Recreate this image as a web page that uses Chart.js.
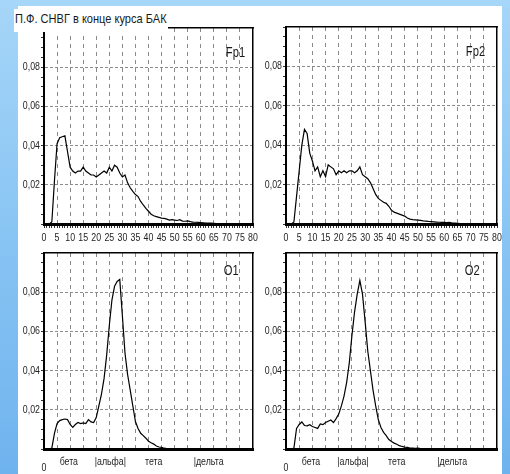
<!DOCTYPE html>
<html>
<head>
<meta charset="utf-8">
<script src="https://cdn.jsdelivr.net/npm/chart.js@4.4.1/dist/chart.umd.min.js"></script>
<style>
  html, body { margin: 0; padding: 0; }
  body {
    width: 510px; height: 474px; position: relative; overflow: hidden;
    background: linear-gradient(180deg, #a6d6f8 0%, #88c4f3 50%, #6fb3ee 100%);
    font-family: 'Liberation Sans', Arial, sans-serif;
  }
  #sheet { position: absolute; left: 18px; top: 6px; width: 484px; height: 468px; background: #fff; }
  canvas { position: absolute; left: 0; top: 0; }
  .lead {
    position: absolute; left: 14px; top: 9px; width: 154px; height: 23px;
    background: #fff; color: #1a1a1a; white-space: nowrap; overflow: visible;
  }
  .lead span {
    display: inline-block; font-size: 13px; line-height: 18px; margin-top: 1px; margin-left: 1px;
    transform: scaleX(0.85); transform-origin: 0 0;
  }
  .lbl {
    position: absolute; font-size: 14px; line-height: 14px; color: #1a1a1a;
    transform: scaleX(0.8); transform-origin: 100% 0;
  }
</style>
</head>
<body>
<div id="sheet"></div>
<canvas id="c0" width="510" height="474"></canvas>
<canvas id="c1" width="510" height="474"></canvas>
<canvas id="c2" width="510" height="474"></canvas>
<canvas id="c3" width="510" height="474"></canvas>
<div class="lead"><span>П.Ф. СНВГ в конце курса БАК</span></div>
<div class="lbl" style="right:265px; top:45px;">Fp1</div>
<div class="lbl" style="right:25px; top:44px;">Fp2</div>
<div class="lbl" style="right:271px; top:263px;">O1</div>
<div class="lbl" style="right:30px; top:263px;">O2</div>
<script>
// Frequency bins, Hz
const hz = [0,1,2,3,4,5,6,7,8,9,10,11,12,13,14,15,16,17,18,19,20,
  21,22,23,24,25,26,27,28,29,30,31,32,33,34,35,36,37,38,39,40,
  41,42,43,44,45,46,47,48,49,50,51,52,53,54,55,56,57,58,59,60,
  61,62,63,64,65,66,67,68,69,70,71,72,73,74,75,76,77,78,79,80];

// Normalised power spectra per lead
const fp1 = [0,0,0,0.001,0.022,0.041,0.044,0.0445,0.045,0.037,0.029,
  0.027,0.026,0.027,0.027,0.029,0.027,0.026,0.025,0.025,0.024,
  0.025,0.026,0.027,0.026,0.029,0.027,0.030,0.029,0.026,0.024,
  0.025,0.021,0.0185,0.0166,0.015,0.014,0.0115,0.0097,0.008,0.0065,
  0.005,0.0042,0.0038,0.0034,0.003,0.0029,0.0025,0.002,0.0022,0.002,
  0.0018,0.0022,0.0015,0.0014,0.0016,0.0012,0.001,0.0009,0.0008,0.0007,
  0.0006,0.0005,0.0004,0.0004,0.0003,0.0002,0,0,0,0,
  0,0,0,0,0,0,0,0,0,0];

const fp2 = [0,0,0,0.001,0.014,0.027,0.040,0.048,0.046,0.036,0.032,
  0.027,0.029,0.024,0.027,0.024,0.030,0.029,0.028,0.025,0.027,
  0.026,0.027,0.026,0.027,0.027,0.026,0.027,0.029,0.025,0.024,
  0.023,0.021,0.018,0.015,0.013,0.012,0.011,0.0105,0.009,0.007,
  0.006,0.0055,0.005,0.0045,0.004,0.003,0.0025,0.0022,0.0021,0.002,
  0.0018,0.0016,0.0015,0.0013,0.0012,0.0011,0.001,0.0009,0.0008,0.0008,
  0.0007,0.0008,0.0005,0.0004,0.0003,0.0002,0,0,0,0,
  0,0,0,0,0,0,0,0,0,0];

const o1 = [0,0,0,0.0005,0.008,0.013,0.0145,0.015,0.0153,0.015,0.0125,
  0.011,0.0125,0.0135,0.013,0.0133,0.013,0.015,0.0138,0.0135,0.016,
  0.022,0.028,0.036,0.048,0.063,0.076,0.083,0.0855,0.0865,0.068,
  0.049,0.038,0.030,0.022,0.014,0.0105,0.008,0.0068,0.0055,0.004,
  0.0032,0.0025,0.0015,0.001,0.0008,0.0004,0.0002,0.0001,0.0002,0.0001,
  0.0002,0,0,0,0,0,0,0,0,0,
  0,0,0,0,0,0,0,0,0,0,
  0,0,0,0,0,0,0,0,0,0];

const o2 = [0,0,0,0.0005,0.0105,0.0125,0.0138,0.012,0.0118,0.0124,0.0115,
  0.011,0.0105,0.0128,0.0124,0.0135,0.0142,0.0148,0.0135,0.0155,0.0178,
  0.022,0.027,0.034,0.044,0.058,0.070,0.079,0.086,0.079,0.065,
  0.050,0.040,0.030,0.022,0.015,0.011,0.0085,0.0068,0.0048,0.0038,
  0.003,0.0024,0.0017,0.0013,0.001,0.0008,0.0005,0.0004,0.0003,0.0004,
  0.0002,0,0,0,0,0,0,0,0,0,
  0,0,0,0,0,0,0,0,0,0,
  0,0,0,0,0,0,0,0,0,0];

// Vertical ticks (every 0.005) and the ones that carry a label
const yGrid = [0,0.005,0.01,0.015,0.02,0.025,0.03,0.035,0.04,0.045,0.05,
  0.055,0.06,0.065,0.07,0.075,0.08,0.085,0.09,0.095,0.1];
const yLabelled = [0.02, 0.04, 0.06, 0.08];

// Rhythm bands under the occipital spectra
const bandAt = [0, 9.5, 25.4, 42, 63];
const bandNames = [['', '0'], 'бета', '|альфа|', 'тета', '|дельта'];

const FAMILY = "'Liberation Sans', Arial, sans-serif";
const NARROW = 0.8;          // horizontal squeeze for a narrow typeface look
const TEXT = '#1e1e1e';
const GRID = '#8a8a8a';
const W = 510, H = 474;

const isLabelled = v => yLabelled.some(t => Math.abs(t - v) < 1e-9);

// Draw canvas text condensed around its anchor point
function narrowText(canvas) {
  const ctx = canvas.getContext('2d');
  const plain = ctx.fillText.bind(ctx);
  ctx.fillText = function (text, x, y, maxWidth) {
    this.save();
    this.translate(x, y);
    this.scale(NARROW, 1);
    if (maxWidth === undefined) plain(text, 0, 0); else plain(text, 0, 0, maxWidth);
    this.restore();
  };
  return canvas;
}

function spectrum(canvasId, values, box, bands) {
  const [L, T, R, B] = box;
  const YW = 30;
  const XH = bands ? 0 : 22;
  const BH = bands ? 22 : 0;

  const scales = {
    x: {
      type: 'linear', position: 'bottom', min: 0, max: 80,
      afterBuildTicks: s => { s.ticks = hz.map(v => ({ value: v })); },
      afterFit: s => { s.height = XH; s.paddingLeft = 0; s.paddingRight = 0; },
      grid: {
        color: c => (c.tick && c.tick.value % 5 === 0 && c.tick.value > 0 && c.tick.value < 80) ? GRID : 'rgba(0,0,0,0)',
        lineWidth: 1, drawTicks: !bands, tickLength: 4, tickColor: '#333', tickWidth: 1
      },
      border: { display: true, color: '#000', width: 3, dash: [4, 4] },
      ticks: {
        display: !bands, autoSkip: false, maxRotation: 0, minRotation: 0, padding: 3,
        color: TEXT, font: { family: FAMILY, size: 11 },
        callback: v => (v % 5 === 0 ? String(v) : '')
      }
    },
    y: {
      type: 'linear', position: 'left', min: 0, max: 0.1,
      afterBuildTicks: s => { s.ticks = yGrid.map(v => ({ value: v })); },
      afterFit: s => { s.width = YW; s.paddingTop = 0; s.paddingBottom = 0; },
      grid: {
        color: c => (c.tick && isLabelled(c.tick.value)) ? GRID : 'rgba(0,0,0,0)',
        lineWidth: 1, drawTicks: true, tickLength: 3, tickColor: '#333', tickWidth: 1
      },
      border: { display: true, color: '#000', width: 2, dash: [3, 2] },
      ticks: {
        autoSkip: false, padding: 1, color: TEXT, font: { family: FAMILY, size: 11 },
        callback: v => (isLabelled(v) ? v.toFixed(2).replace('.', ',') : '')
      }
    },
    xt: {
      type: 'linear', position: 'top', min: 0, max: 80,
      grid: { display: false, drawTicks: false }, ticks: { display: false },
      border: { display: true, color: '#000', width: 1.5 },
      afterFit: s => { s.height = 0; s.paddingLeft = 0; s.paddingRight = 0; }
    },
    yr: {
      type: 'linear', position: 'right', min: 0, max: 0.1,
      grid: { display: false, drawTicks: false }, ticks: { display: false },
      border: { display: true, color: '#000', width: 1.5 },
      afterFit: s => { s.width = 0; s.paddingTop = 0; s.paddingBottom = 0; }
    }
  };

  if (bands) {
    scales.xb = {
      type: 'linear', position: 'bottom', min: 0, max: 80,
      grid: { display: false, drawTicks: false }, border: { display: false },
      afterBuildTicks: s => { s.ticks = bandAt.map(v => ({ value: v })); },
      afterFit: s => { s.height = BH; s.paddingLeft = 0; s.paddingRight = 0; },
      ticks: {
        autoSkip: false, maxRotation: 0, minRotation: 0, padding: 6,
        color: TEXT,
        font: c => (c.index === 0
          ? { family: FAMILY, size: 11, lineHeight: '8.5px' }
          : { family: FAMILY, size: 11 }),
        callback: (v, i) => bandNames[i]
      }
    };
  }

  return new Chart(narrowText(document.getElementById(canvasId)), {
    type: 'line',
    data: {
      datasets: [{
        data: values.map((v, i) => ({ x: hz[i], y: v })),
        borderColor: '#000', borderWidth: 1.2, pointRadius: 0, tension: 0, fill: false,
        xAxisID: 'x', yAxisID: 'y'
      }]
    },
    options: {
      responsive: false, animation: false, events: [],
      layout: { padding: { left: L - YW, top: T, right: W - R, bottom: H - B - XH - BH } },
      plugins: { legend: { display: false }, tooltip: { enabled: false }, title: { display: false } },
      scales
    }
  });
}

spectrum('c0', fp1, [44, 28, 253, 224], false);
spectrum('c1', fp2, [286, 27, 497, 224], false);
spectrum('c2', o1,  [44, 253, 253, 449], true);
spectrum('c3', o2,  [286, 253, 497, 449], true);
</script>
</body>
</html>
